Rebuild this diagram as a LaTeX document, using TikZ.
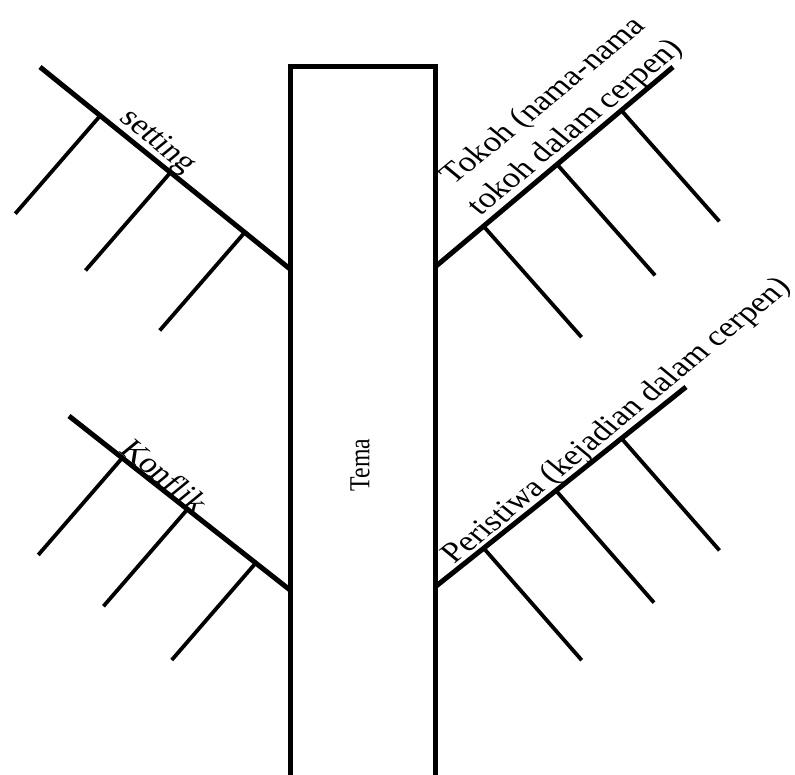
\documentclass[tikz,border=0pt]{standalone}
\usepackage{fontspec}
\setmainfont{Liberation Serif}
\usetikzlibrary{calc}
\begin{document}
\begin{tikzpicture}[x=1pt, y=-1pt,
    bone/.style={line width=5pt},
    rib/.style={line width=3.8pt},
    lbl/.style={font=\fontsize{35}{45}\selectfont, inner sep=1.5pt, anchor=south}]
  \useasboundingbox (0,0) rectangle (795,775);
  \clip (0,0) rectangle (795,775);
  \draw[bone] (290,800) -- (290,66.5) -- (435,66.5) -- (435,800);
  \node[font=\fontsize{29}{34}\selectfont, yscale=.82, rotate=90] (tema) at (360,465) {Tema};
  \coordinate (setA) at (40,67);   \coordinate (setB) at (290,269);
  \coordinate (konA) at (69,416);  \coordinate (konB) at (290,590);
  \coordinate (tokA) at (435,267); \coordinate (tokB) at (673,67);
  \coordinate (perA) at (435,587); \coordinate (perB) at (686,387);
  \draw[bone] (setA) -- (setB);
  \draw[bone] (konA) -- (konB);
  \draw[bone] (tokA) -- (tokB);
  \draw[bone] (perA) -- (perB);
  \foreach \p in {0.241,0.522,0.819}
    \draw[rib] ($(setA)!\p!(setB)$) -- ++(-85,98);
  \foreach \p in {0.241,0.536,0.845}
    \draw[rib] ($(konA)!\p!(konB)$) -- ++(-84,97);
  \foreach \p in {0.204,0.513,0.783}
    \draw[rib] ($(tokA)!\p!(tokB)$) -- ++(98,111);
  \foreach \p in {0.194,0.482,0.743}
    \draw[rib] ($(perA)!\p!(perB)$) -- ++(98,112);
  \node[lbl, yscale=.82, rotate=-45] (setting) at ($(setA)!0.42!(setB)$) {setting};
  \node[lbl, yscale=.82, rotate=-45] (konflik) at ($(konA)!0.39!(konB)$) {Konflik};
  \node[lbl, align=center, yscale=.82, rotate=45] (tokoh) at ($(tokA)!0.645!(tokB)$) {Tokoh (nama-nama\\tokoh dalam cerpen)};
  \node[lbl, yscale=.82, rotate=45] (peristiwa) at ($(perA)!0.776!(perB)$) {Peristiwa (kejadian dalam cerpen)};
\end{tikzpicture}
\end{document}
